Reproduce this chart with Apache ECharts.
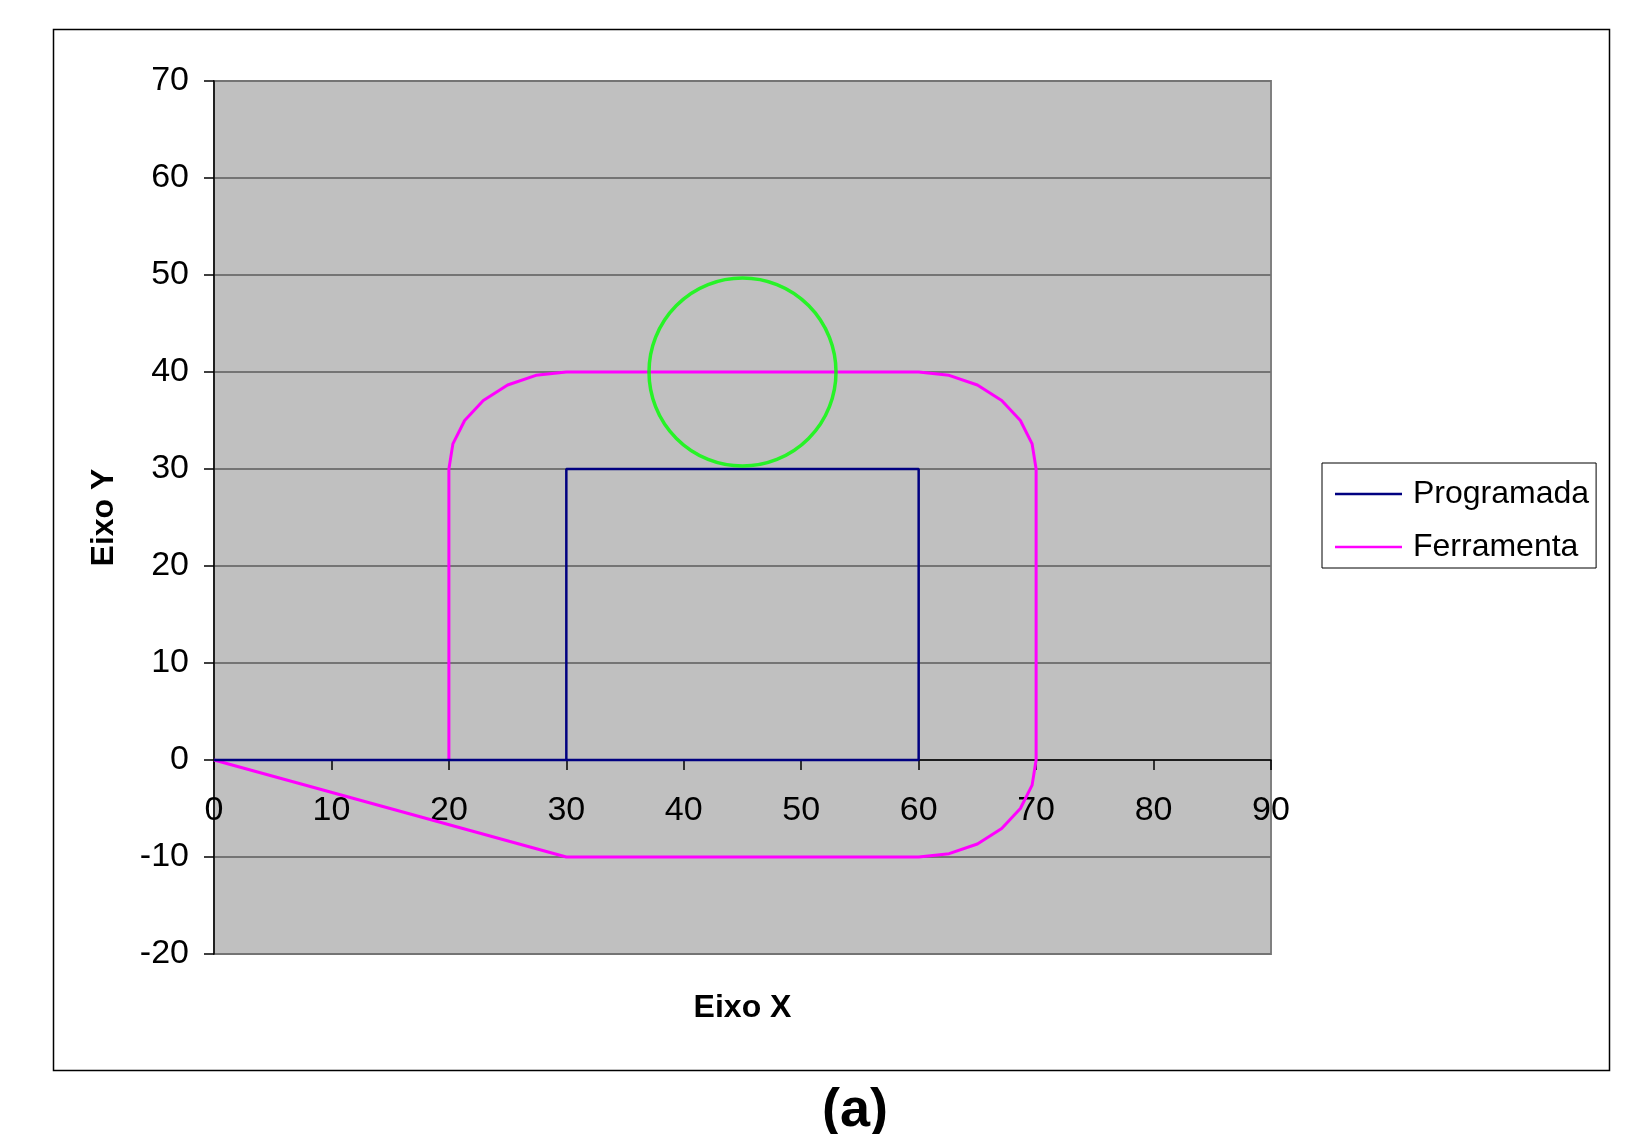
<!DOCTYPE html>
<html>
<head>
<meta charset="utf-8">
<script src="https://cdn.jsdelivr.net/npm/echarts@6/dist/echarts.min.js"></script>
<style>
html,body{margin:0;padding:0;background:#fff;}
#chart{width:1636px;height:1134px;}
</style>
</head>
<body>
<div id="chart"></div>
<script>
// ---- data ----
const programadaX = [0, 60, 60, 30, 30];
const programadaY = [0, 0, 30, 30, 0];

const ferramentaX = [0, 30, 60, 62.59, 65, 67.07, 68.66, 69.66, 70, 70, 69.66, 68.66, 67.07, 65, 62.59, 60, 30, 27.41, 25, 22.93, 21.34, 20.34, 20, 20];
const ferramentaY = [0, -10, -10, -9.66, -8.66, -7.07, -5, -2.59, 0, 30, 32.59, 35, 37.07, 38.66, 39.66, 40, 40, 39.66, 38.66, 37.07, 35, 32.59, 30, 0];

const ferramentaCircle = [[45, 40]];

const xTicks = [0, 10, 20, 30, 40, 50, 60, 70, 80, 90];
const yTicks = [-20, -10, 0, 10, 20, 30, 40, 50, 60, 70];

const seriesNames = ['Programada', 'Ferramenta'];
const xName = 'Eixo X';
const yName = 'Eixo Y';
const caption = '(a)';

// ---- chart ----
const FONT = '"Liberation Sans", Arial, sans-serif';
const zip = (xs, ys) => xs.map((x, i) => [x, ys[i]]);

const GRID = {left: 214, top: 81, width: 1057, height: 873};
const yMin = yTicks[0], yMax = yTicks[yTicks.length - 1];
// place the x axis on y = 0 (axis moved up from the grid bottom)
const xAxisOffset = -((0 - yMin) / (yMax - yMin)) * GRID.height;

const chart = echarts.init(document.getElementById('chart'), null, {renderer: 'canvas'});
chart.setOption({
  animation: false,
  backgroundColor: '#ffffff',
  textStyle: {fontFamily: FONT},
  grid: Object.assign({
    show: true, backgroundColor: '#C0C0C0', borderColor: '#808080', borderWidth: 2,
    containLabel: false, outerBoundsMode: 'none'
  }, GRID),
  legend: {
    data: seriesNames,
    orient: 'vertical',
    left: 1322, top: 463,
    icon: 'rect',
    itemWidth: 67, itemHeight: 2.5, itemGap: 21,
    padding: [15, 7, 5, 13],
    borderColor: '#000', borderWidth: 1, backgroundColor: '#fff',
    textStyle: {fontFamily: FONT, fontSize: 32, color: '#000', padding: [0, 0, 0, 6]},
    selectedMode: false
  },
  xAxis: {
    type: 'value',
    position: 'bottom',
    offset: xAxisOffset,
    min: xTicks[0], max: xTicks[xTicks.length - 1], interval: 10,
    axisLine: {onZero: false, lineStyle: {color: '#000', width: 1.5}},
    axisTick: {show: true, length: 10, lineStyle: {color: '#000', width: 1.5}},
    axisLabel: {fontFamily: FONT, fontSize: 34, color: '#000', margin: 34, showMinLabel: true, showMaxLabel: true, hideOverlap: false},
    splitLine: {show: false},
    name: xName, nameLocation: 'middle', nameGap: 232, nameMoveOverlap: false,
    nameTextStyle: {fontFamily: FONT, fontSize: 32, fontWeight: 'bold', color: '#000'}
  },
  yAxis: {
    type: 'value',
    min: yMin, max: yMax, interval: 10,
    axisLine: {onZero: false, lineStyle: {color: '#000', width: 1.5}},
    axisTick: {show: true, length: 10, lineStyle: {color: '#000', width: 1.5}},
    axisLabel: {fontFamily: FONT, fontSize: 34, color: '#000', margin: 25},
    splitLine: {show: true, lineStyle: {color: '#747474', width: 2}},
    name: yName, nameLocation: 'middle', nameGap: 94, nameMoveOverlap: false,
    nameTextStyle: {fontFamily: FONT, fontSize: 32, fontWeight: 'bold', color: '#000'}
  },
  graphic: [
    {type: 'rect', left: 51, top: 27, z: -10, silent: true,
     shape: {width: 1556, height: 1041},
     style: {fill: 'none', stroke: '#000', lineWidth: 1.5}},
    {type: 'text', x: 855, y: 1111, silent: true,
     style: {text: caption, font: 'bold 54px ' + FONT, fill: '#000', textAlign: 'center', textVerticalAlign: 'middle'}}
  ],
  series: [
    {
      name: seriesNames[1], type: 'line', data: zip(ferramentaX, ferramentaY),
      symbol: 'none', silent: true, z: 2,
      lineStyle: {color: '#FF00FF', width: 3}, itemStyle: {color: '#FF00FF'}
    },
    {
      name: seriesNames[0], type: 'line', data: zip(programadaX, programadaY),
      symbol: 'none', silent: true, z: 3,
      lineStyle: {color: '#000080', width: 2.5}, itemStyle: {color: '#000080'}
    },
    {
      name: 'circle', type: 'scatter', data: ferramentaCircle,
      symbol: 'circle', symbolSize: [187, 188], silent: true, z: 4,
      itemStyle: {color: 'rgba(0,0,0,0)', borderColor: '#00FF00', borderWidth: 3.5}
    }
  ]
});
</script>
</body>
</html>
